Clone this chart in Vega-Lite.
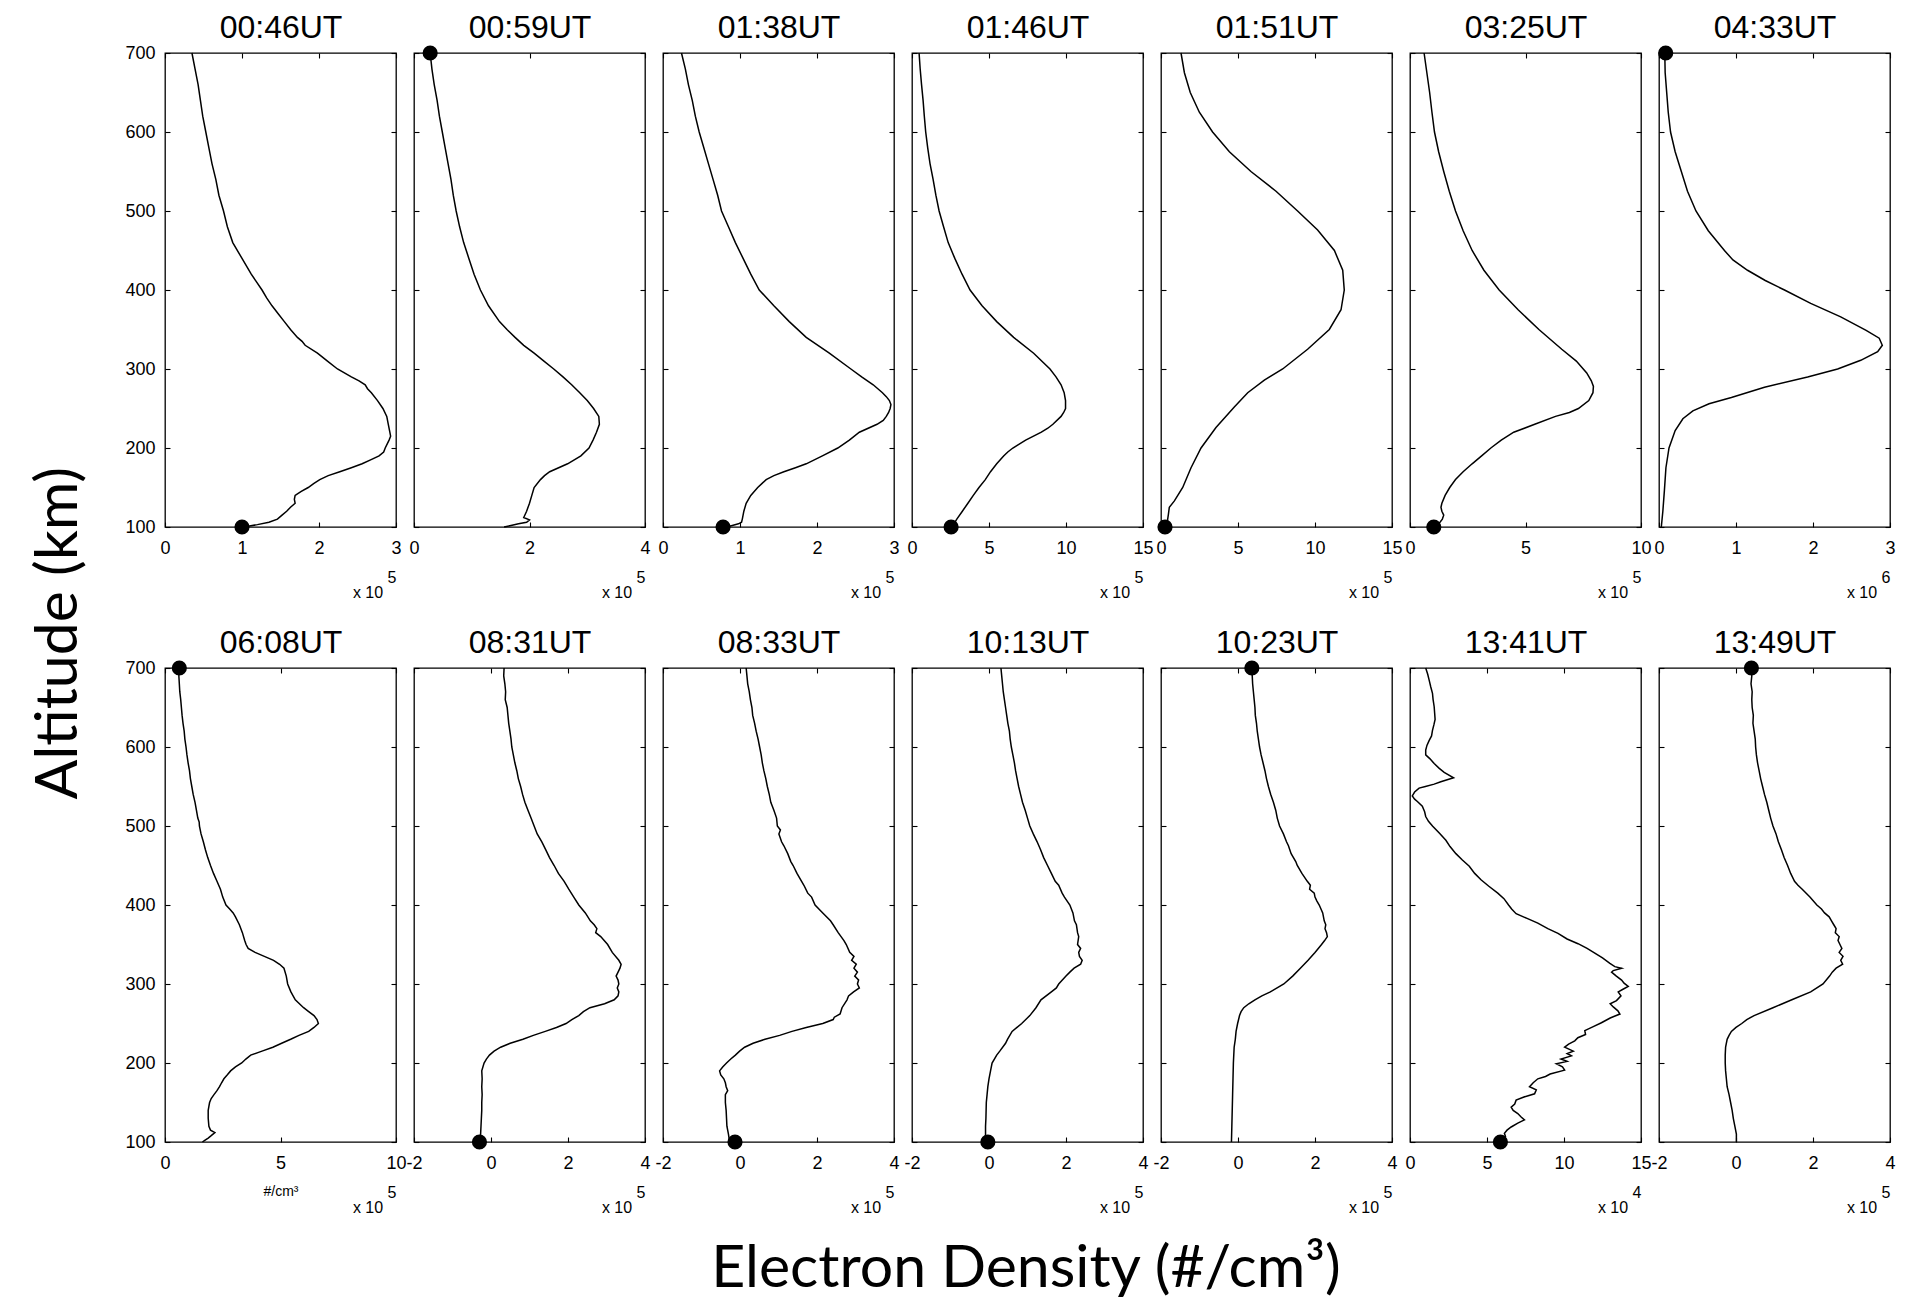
{
  "$schema": "https://vega.github.io/schema/vega-lite/v6.json",
  "background": "#ffffff",
  "padding": {"left": 30, "top": 10, "right": 5, "bottom": 5},
  "config": {
    "view": {"stroke": "#000000", "strokeWidth": 1.3},
    "axis": {"domain": false, "grid": false, "tickColor": "#000000", "tickWidth": 1.1, "tickSize": -5,
             "labelFont": "Liberation Sans", "labelFontSize": 18, "labelColor": "#000000",
             "labelOverlap": false, "labelFlush": false, "labelBound": false,
             "titleFont": "Liberation Sans", "titleFontWeight": "normal", "titleColor": "#000000"},
    "axisLeft": {"labelPadding": 15},
    "axisBottom": {"labelPadding": 17},
    "line": {"color": "#000000", "strokeWidth": 1.5},
    "circle": {"color": "#000000", "opacity": 1, "size": 230}
  },
  "title": {"text": "Electron Density (#/cm³)", "orient": "bottom", "anchor": "middle", "font": "Lato", "fontSize": 59, "fontWeight": "normal", "color": "#000000", "offset": 24, "dx": 63},
  "datasets": {
    "t0046": [
      {"alt":700,"ne":35000},{"alt":680,"ne":39000},{"alt":660,"ne":43000},{"alt":640,"ne":46000},{"alt":620,"ne":49000},{"alt":600,"ne":53000},{"alt":580,"ne":57000},{"alt":560,"ne":61000},{"alt":540,"ne":66000},{"alt":520,"ne":70000},{"alt":500,"ne":76000},{"alt":480,"ne":81000},{"alt":460,"ne":88000},{"alt":440,"ne":100000},{"alt":420,"ne":112000},{"alt":400,"ne":126000},{"alt":390,"ne":132000},{"alt":380,"ne":139000},{"alt":370,"ne":147000},{"alt":360,"ne":155000},{"alt":350,"ne":163000},{"alt":340,"ne":172000},{"alt":335,"ne":178000},{"alt":330,"ne":182000},{"alt":320,"ne":198000},{"alt":310,"ne":211000},{"alt":300,"ne":224000},{"alt":290,"ne":242000},{"alt":285,"ne":252000},{"alt":280,"ne":260000},{"alt":275,"ne":263000},{"alt":270,"ne":268000},{"alt":260,"ne":276000},{"alt":250,"ne":283000},{"alt":240,"ne":288000},{"alt":230,"ne":290000},{"alt":220,"ne":292000},{"alt":215,"ne":293000},{"alt":210,"ne":291000},{"alt":200,"ne":286000},{"alt":195,"ne":284000},{"alt":190,"ne":278000},{"alt":185,"ne":267000},{"alt":180,"ne":256000},{"alt":175,"ne":242000},{"alt":170,"ne":227000},{"alt":165,"ne":212000},{"alt":160,"ne":201000},{"alt":155,"ne":193000},{"alt":150,"ne":186000},{"alt":145,"ne":177000},{"alt":142,"ne":172000},{"alt":140,"ne":169000},{"alt":135,"ne":168000},{"alt":130,"ne":169000},{"alt":125,"ne":163000},{"alt":120,"ne":158000},{"alt":115,"ne":152000},{"alt":110,"ne":146000},{"alt":106,"ne":135000},{"alt":103,"ne":120000},{"alt":101,"ne":108000},{"alt":100,"ne":100000}
    ],
    "t0059": [
      {"alt":700,"ne":28000},{"alt":680,"ne":31000},{"alt":660,"ne":35000},{"alt":640,"ne":40000},{"alt":620,"ne":44000},{"alt":600,"ne":49000},{"alt":580,"ne":54000},{"alt":560,"ne":59000},{"alt":540,"ne":64000},{"alt":520,"ne":68000},{"alt":500,"ne":73000},{"alt":480,"ne":79000},{"alt":460,"ne":86000},{"alt":440,"ne":95000},{"alt":420,"ne":104000},{"alt":400,"ne":115000},{"alt":380,"ne":129000},{"alt":360,"ne":148000},{"alt":350,"ne":161000},{"alt":340,"ne":175000},{"alt":330,"ne":190000},{"alt":320,"ne":208000},{"alt":310,"ne":225000},{"alt":300,"ne":242000},{"alt":290,"ne":258000},{"alt":280,"ne":273000},{"alt":270,"ne":287000},{"alt":260,"ne":300000},{"alt":250,"ne":311000},{"alt":240,"ne":320000},{"alt":230,"ne":321000},{"alt":220,"ne":316000},{"alt":210,"ne":310000},{"alt":200,"ne":303000},{"alt":190,"ne":289000},{"alt":180,"ne":266000},{"alt":170,"ne":235000},{"alt":165,"ne":226000},{"alt":160,"ne":219000},{"alt":150,"ne":208000},{"alt":140,"ne":204000},{"alt":130,"ne":200000},{"alt":120,"ne":195000},{"alt":112,"ne":190000},{"alt":109,"ne":200000},{"alt":106,"ne":195000},{"alt":104,"ne":181000},{"alt":102,"ne":168000},{"alt":100,"ne":156000}
    ],
    "t0138": [
      {"alt":700,"ne":24000},{"alt":680,"ne":29000},{"alt":660,"ne":33000},{"alt":640,"ne":38000},{"alt":620,"ne":42000},{"alt":600,"ne":47000},{"alt":580,"ne":53000},{"alt":560,"ne":59000},{"alt":540,"ne":65000},{"alt":520,"ne":71000},{"alt":500,"ne":76000},{"alt":480,"ne":85000},{"alt":460,"ne":94000},{"alt":440,"ne":104000},{"alt":420,"ne":114000},{"alt":400,"ne":125000},{"alt":380,"ne":144000},{"alt":360,"ne":164000},{"alt":340,"ne":186000},{"alt":320,"ne":216000},{"alt":300,"ne":244000},{"alt":290,"ne":258000},{"alt":280,"ne":273000},{"alt":270,"ne":285000},{"alt":265,"ne":290000},{"alt":260,"ne":294000},{"alt":255,"ne":296000},{"alt":250,"ne":295000},{"alt":245,"ne":293000},{"alt":240,"ne":290000},{"alt":235,"ne":286000},{"alt":230,"ne":278000},{"alt":220,"ne":255000},{"alt":210,"ne":242000},{"alt":200,"ne":227000},{"alt":190,"ne":207000},{"alt":180,"ne":186000},{"alt":175,"ne":172000},{"alt":170,"ne":157000},{"alt":165,"ne":144000},{"alt":160,"ne":134000},{"alt":150,"ne":123000},{"alt":140,"ne":114000},{"alt":130,"ne":108000},{"alt":120,"ne":105000},{"alt":110,"ne":103000},{"alt":106,"ne":102000},{"alt":104,"ne":98000},{"alt":102,"ne":90000},{"alt":100,"ne":82000}
    ],
    "t0146": [
      {"alt":700,"ne":46000},{"alt":680,"ne":53000},{"alt":660,"ne":62000},{"alt":640,"ne":72000},{"alt":620,"ne":80000},{"alt":600,"ne":89000},{"alt":580,"ne":102000},{"alt":560,"ne":117000},{"alt":540,"ne":137000},{"alt":520,"ne":155000},{"alt":500,"ne":176000},{"alt":480,"ne":205000},{"alt":460,"ne":235000},{"alt":440,"ne":278000},{"alt":420,"ne":325000},{"alt":400,"ne":377000},{"alt":380,"ne":455000},{"alt":360,"ne":550000},{"alt":340,"ne":660000},{"alt":320,"ne":790000},{"alt":300,"ne":896000},{"alt":290,"ne":935000},{"alt":280,"ne":968000},{"alt":270,"ne":988000},{"alt":260,"ne":997000},{"alt":250,"ne":997000},{"alt":245,"ne":985000},{"alt":240,"ne":968000},{"alt":230,"ne":915000},{"alt":225,"ne":882000},{"alt":220,"ne":840000},{"alt":210,"ne":738000},{"alt":200,"ne":655000},{"alt":195,"ne":622000},{"alt":190,"ne":595000},{"alt":180,"ne":550000},{"alt":170,"ne":510000},{"alt":160,"ne":476000},{"alt":150,"ne":435000},{"alt":140,"ne":398000},{"alt":130,"ne":363000},{"alt":120,"ne":327000},{"alt":110,"ne":291000},{"alt":105,"ne":275000},{"alt":100,"ne":260000}
    ],
    "t0151": [
      {"alt":700,"ne":130000},{"alt":675,"ne":152000},{"alt":650,"ne":190000},{"alt":625,"ne":249000},{"alt":600,"ne":335000},{"alt":575,"ne":444000},{"alt":550,"ne":584000},{"alt":525,"ne":747000},{"alt":500,"ne":887000},{"alt":476,"ne":1017000},{"alt":450,"ne":1126000},{"alt":425,"ne":1180000},{"alt":400,"ne":1190000},{"alt":375,"ne":1169000},{"alt":350,"ne":1093000},{"alt":325,"ne":952000},{"alt":300,"ne":790000},{"alt":286,"ne":671000},{"alt":270,"ne":563000},{"alt":252,"ne":476000},{"alt":226,"ne":357000},{"alt":200,"ne":260000},{"alt":175,"ne":195000},{"alt":150,"ne":141000},{"alt":133,"ne":87000},{"alt":125,"ne":54000},{"alt":116,"ne":48000},{"alt":108,"ne":42000},{"alt":100,"ne":39000}
    ],
    "t0325": [
      {"alt":700,"ne":61000},{"alt":675,"ne":73000},{"alt":650,"ne":85000},{"alt":625,"ne":95000},{"alt":600,"ne":106000},{"alt":575,"ne":124000},{"alt":550,"ne":146000},{"alt":525,"ne":170000},{"alt":500,"ne":197000},{"alt":475,"ne":230000},{"alt":450,"ne":269000},{"alt":425,"ne":320000},{"alt":400,"ne":386000},{"alt":375,"ne":468000},{"alt":350,"ne":558000},{"alt":325,"ne":657000},{"alt":310,"ne":720000},{"alt":295,"ne":765000},{"alt":285,"ne":785000},{"alt":278,"ne":794000},{"alt":270,"ne":792000},{"alt":260,"ne":774000},{"alt":250,"ne":729000},{"alt":245,"ne":690000},{"alt":240,"ne":630000},{"alt":230,"ne":540000},{"alt":220,"ne":449000},{"alt":210,"ne":395000},{"alt":200,"ne":350000},{"alt":190,"ne":310000},{"alt":180,"ne":269000},{"alt":170,"ne":230000},{"alt":160,"ne":197000},{"alt":150,"ne":172000},{"alt":140,"ne":152000},{"alt":130,"ne":138000},{"alt":125,"ne":134000},{"alt":120,"ne":138000},{"alt":115,"ne":146000},{"alt":110,"ne":140000},{"alt":106,"ne":130000},{"alt":103,"ne":115000},{"alt":100,"ne":103000}
    ],
    "t0433": [
      {"alt":700,"ne":75000},{"alt":675,"ne":80000},{"alt":650,"ne":100000},{"alt":625,"ne":120000},{"alt":600,"ne":150000},{"alt":575,"ne":210000},{"alt":550,"ne":290000},{"alt":525,"ne":370000},{"alt":500,"ne":480000},{"alt":475,"ne":640000},{"alt":450,"ne":850000},{"alt":438,"ne":960000},{"alt":425,"ne":1150000},{"alt":412,"ne":1380000},{"alt":400,"ne":1630000},{"alt":383,"ne":1970000},{"alt":366,"ne":2360000},{"alt":349,"ne":2690000},{"alt":339,"ne":2860000},{"alt":330,"ne":2900000},{"alt":322,"ne":2840000},{"alt":311,"ne":2620000},{"alt":300,"ne":2320000},{"alt":290,"ne":1930000},{"alt":277,"ne":1370000},{"alt":264,"ne":940000},{"alt":256,"ne":650000},{"alt":247,"ne":440000},{"alt":237,"ne":310000},{"alt":222,"ne":210000},{"alt":200,"ne":130000},{"alt":175,"ne":90000},{"alt":146,"ne":70000},{"alt":120,"ne":50000},{"alt":100,"ne":30000}
    ],
    "t0608": [
      {"alt":700,"ne":60000},{"alt":690,"ne":60000},{"alt":680,"ne":62000},{"alt":670,"ne":64000},{"alt":660,"ne":68000},{"alt":650,"ne":71000},{"alt":640,"ne":74000},{"alt":630,"ne":78000},{"alt":620,"ne":83000},{"alt":610,"ne":86000},{"alt":600,"ne":91000},{"alt":590,"ne":95000},{"alt":580,"ne":100000},{"alt":570,"ne":106000},{"alt":560,"ne":110000},{"alt":550,"ne":116000},{"alt":540,"ne":122000},{"alt":530,"ne":130000},{"alt":520,"ne":136000},{"alt":510,"ne":142000},{"alt":505,"ne":148000},{"alt":500,"ne":149000},{"alt":490,"ne":156000},{"alt":480,"ne":166000},{"alt":470,"ne":175000},{"alt":460,"ne":185000},{"alt":450,"ne":197000},{"alt":440,"ne":210000},{"alt":430,"ne":225000},{"alt":420,"ne":240000},{"alt":410,"ne":250000},{"alt":400,"ne":264000},{"alt":395,"ne":280000},{"alt":390,"ne":295000},{"alt":385,"ne":305000},{"alt":375,"ne":322000},{"alt":365,"ne":335000},{"alt":355,"ne":345000},{"alt":350,"ne":351000},{"alt":345,"ne":360000},{"alt":340,"ne":390000},{"alt":335,"ne":430000},{"alt":330,"ne":470000},{"alt":325,"ne":496000},{"alt":320,"ne":515000},{"alt":310,"ne":525000},{"alt":300,"ne":531000},{"alt":290,"ne":545000},{"alt":280,"ne":564000},{"alt":270,"ne":600000},{"alt":265,"ne":622000},{"alt":260,"ne":645000},{"alt":255,"ne":658000},{"alt":250,"ne":664000},{"alt":245,"ne":645000},{"alt":240,"ne":622000},{"alt":235,"ne":580000},{"alt":230,"ne":544000},{"alt":225,"ne":505000},{"alt":220,"ne":467000},{"alt":215,"ne":420000},{"alt":210,"ne":371000},{"alt":205,"ne":350000},{"alt":200,"ne":332000},{"alt":195,"ne":305000},{"alt":190,"ne":284000},{"alt":185,"ne":270000},{"alt":180,"ne":255000},{"alt":175,"ne":245000},{"alt":170,"ne":236000},{"alt":165,"ne":225000},{"alt":160,"ne":212000},{"alt":155,"ne":200000},{"alt":150,"ne":193000},{"alt":145,"ne":190000},{"alt":140,"ne":187000},{"alt":130,"ne":187000},{"alt":120,"ne":190000},{"alt":115,"ne":197000},{"alt":112,"ne":216000},{"alt":108,"ne":200000},{"alt":105,"ne":187000},{"alt":102,"ne":172000},{"alt":100,"ne":162000}
    ],
    "t0831": [
      {"alt":700,"ne":34000},{"alt":690,"ne":33000},{"alt":680,"ne":36000},{"alt":670,"ne":38000},{"alt":660,"ne":37000},{"alt":650,"ne":42000},{"alt":640,"ne":44000},{"alt":630,"ne":46000},{"alt":620,"ne":49000},{"alt":610,"ne":52000},{"alt":600,"ne":54000},{"alt":590,"ne":58000},{"alt":580,"ne":62000},{"alt":570,"ne":67000},{"alt":560,"ne":71000},{"alt":550,"ne":77000},{"alt":540,"ne":82000},{"alt":530,"ne":88000},{"alt":520,"ne":96000},{"alt":510,"ne":104000},{"alt":500,"ne":112000},{"alt":490,"ne":120000},{"alt":480,"ne":132000},{"alt":470,"ne":142000},{"alt":460,"ne":152000},{"alt":450,"ne":164000},{"alt":440,"ne":175000},{"alt":430,"ne":190000},{"alt":420,"ne":202000},{"alt":410,"ne":215000},{"alt":400,"ne":228000},{"alt":390,"ne":245000},{"alt":380,"ne":258000},{"alt":375,"ne":268000},{"alt":370,"ne":275000},{"alt":365,"ne":272000},{"alt":360,"ne":285000},{"alt":350,"ne":303000},{"alt":340,"ne":315000},{"alt":330,"ne":332000},{"alt":325,"ne":338000},{"alt":320,"ne":335000},{"alt":315,"ne":330000},{"alt":310,"ne":325000},{"alt":305,"ne":330000},{"alt":300,"ne":332000},{"alt":295,"ne":328000},{"alt":290,"ne":332000},{"alt":285,"ne":330000},{"alt":280,"ne":320000},{"alt":275,"ne":295000},{"alt":270,"ne":257000},{"alt":265,"ne":240000},{"alt":260,"ne":228000},{"alt":255,"ne":210000},{"alt":250,"ne":195000},{"alt":245,"ne":170000},{"alt":240,"ne":141000},{"alt":235,"ne":110000},{"alt":230,"ne":83000},{"alt":225,"ne":50000},{"alt":220,"ne":25000},{"alt":215,"ne":8000},{"alt":210,"ne":-4000},{"alt":205,"ne":-12000},{"alt":200,"ne":-18000},{"alt":190,"ne":-24000},{"alt":180,"ne":-23000},{"alt":170,"ne":-24000},{"alt":160,"ne":-23000},{"alt":150,"ne":-24000},{"alt":140,"ne":-24000},{"alt":130,"ne":-25000},{"alt":120,"ne":-26000},{"alt":110,"ne":-27000},{"alt":100,"ne":-30000}
    ],
    "t0833": [
      {"alt":700,"ne":16000},{"alt":690,"ne":18000},{"alt":680,"ne":20000},{"alt":670,"ne":24000},{"alt":660,"ne":27000},{"alt":650,"ne":31000},{"alt":640,"ne":33000},{"alt":630,"ne":38000},{"alt":620,"ne":42000},{"alt":610,"ne":47000},{"alt":600,"ne":51000},{"alt":590,"ne":55000},{"alt":580,"ne":58000},{"alt":570,"ne":62000},{"alt":560,"ne":67000},{"alt":550,"ne":71000},{"alt":540,"ne":76000},{"alt":530,"ne":80000},{"alt":520,"ne":88000},{"alt":510,"ne":95000},{"alt":500,"ne":97000},{"alt":495,"ne":105000},{"alt":490,"ne":101000},{"alt":480,"ne":108000},{"alt":475,"ne":114000},{"alt":465,"ne":124000},{"alt":455,"ne":132000},{"alt":450,"ne":138000},{"alt":440,"ne":148000},{"alt":430,"ne":160000},{"alt":425,"ne":166000},{"alt":415,"ne":176000},{"alt":410,"ne":186000},{"alt":400,"ne":195000},{"alt":390,"ne":215000},{"alt":380,"ne":235000},{"alt":375,"ne":242000},{"alt":365,"ne":255000},{"alt":355,"ne":270000},{"alt":350,"ne":276000},{"alt":340,"ne":285000},{"alt":335,"ne":296000},{"alt":330,"ne":290000},{"alt":325,"ne":302000},{"alt":320,"ne":296000},{"alt":315,"ne":305000},{"alt":310,"ne":298000},{"alt":305,"ne":308000},{"alt":300,"ne":305000},{"alt":295,"ne":310000},{"alt":290,"ne":295000},{"alt":285,"ne":282000},{"alt":280,"ne":278000},{"alt":270,"ne":265000},{"alt":262,"ne":260000},{"alt":258,"ne":245000},{"alt":255,"ne":242000},{"alt":250,"ne":215000},{"alt":245,"ne":172000},{"alt":240,"ne":135000},{"alt":235,"ne":103000},{"alt":230,"ne":65000},{"alt":225,"ne":34000},{"alt":220,"ne":12000},{"alt":215,"ne":-1000},{"alt":210,"ne":-12000},{"alt":205,"ne":-24000},{"alt":200,"ne":-35000},{"alt":195,"ne":-45000},{"alt":190,"ne":-53000},{"alt":185,"ne":-50000},{"alt":180,"ne":-42000},{"alt":175,"ne":-38000},{"alt":170,"ne":-36000},{"alt":165,"ne":-32000},{"alt":160,"ne":-38000},{"alt":150,"ne":-38000},{"alt":140,"ne":-36000},{"alt":130,"ne":-35000},{"alt":120,"ne":-34000},{"alt":110,"ne":-30000},{"alt":100,"ne":-27000}
    ],
    "t1013": [
      {"alt":700,"ne":31000},{"alt":690,"ne":33000},{"alt":680,"ne":35000},{"alt":670,"ne":37000},{"alt":660,"ne":40000},{"alt":650,"ne":43000},{"alt":640,"ne":46000},{"alt":630,"ne":49000},{"alt":620,"ne":53000},{"alt":610,"ne":55000},{"alt":600,"ne":58000},{"alt":590,"ne":62000},{"alt":580,"ne":66000},{"alt":570,"ne":69000},{"alt":560,"ne":73000},{"alt":550,"ne":77000},{"alt":540,"ne":82000},{"alt":530,"ne":87000},{"alt":520,"ne":94000},{"alt":510,"ne":100000},{"alt":500,"ne":106000},{"alt":490,"ne":115000},{"alt":480,"ne":125000},{"alt":470,"ne":134000},{"alt":460,"ne":142000},{"alt":450,"ne":152000},{"alt":440,"ne":162000},{"alt":430,"ne":172000},{"alt":425,"ne":181000},{"alt":415,"ne":190000},{"alt":410,"ne":196000},{"alt":400,"ne":210000},{"alt":390,"ne":218000},{"alt":380,"ne":222000},{"alt":375,"ne":227000},{"alt":365,"ne":230000},{"alt":360,"ne":233000},{"alt":350,"ne":230000},{"alt":345,"ne":238000},{"alt":340,"ne":233000},{"alt":335,"ne":235000},{"alt":330,"ne":242000},{"alt":325,"ne":238000},{"alt":320,"ne":221000},{"alt":315,"ne":210000},{"alt":310,"ne":200000},{"alt":300,"ne":181000},{"alt":295,"ne":175000},{"alt":290,"ne":162000},{"alt":280,"ne":135000},{"alt":270,"ne":122000},{"alt":260,"ne":106000},{"alt":250,"ne":85000},{"alt":240,"ne":60000},{"alt":230,"ne":48000},{"alt":225,"ne":43000},{"alt":215,"ne":28000},{"alt":210,"ne":20000},{"alt":200,"ne":8000},{"alt":190,"ne":4000},{"alt":180,"ne":0},{"alt":170,"ne":-3000},{"alt":160,"ne":-5000},{"alt":150,"ne":-7000},{"alt":130,"ne":-8000},{"alt":120,"ne":-9000},{"alt":100,"ne":-9000}
    ],
    "t1023": [
      {"alt":700,"ne":36000},{"alt":690,"ne":37000},{"alt":680,"ne":38000},{"alt":670,"ne":40000},{"alt":660,"ne":42000},{"alt":650,"ne":44000},{"alt":640,"ne":45000},{"alt":630,"ne":48000},{"alt":620,"ne":50000},{"alt":610,"ne":53000},{"alt":600,"ne":56000},{"alt":590,"ne":60000},{"alt":580,"ne":65000},{"alt":570,"ne":70000},{"alt":560,"ne":74000},{"alt":550,"ne":79000},{"alt":540,"ne":85000},{"alt":530,"ne":92000},{"alt":520,"ne":98000},{"alt":510,"ne":102000},{"alt":500,"ne":108000},{"alt":490,"ne":118000},{"alt":480,"ne":126000},{"alt":475,"ne":131000},{"alt":465,"ne":138000},{"alt":455,"ne":150000},{"alt":450,"ne":154000},{"alt":440,"ne":166000},{"alt":430,"ne":180000},{"alt":425,"ne":188000},{"alt":420,"ne":186000},{"alt":415,"ne":198000},{"alt":410,"ne":200000},{"alt":405,"ne":205000},{"alt":400,"ne":211000},{"alt":390,"ne":220000},{"alt":380,"ne":224000},{"alt":375,"ne":228000},{"alt":370,"ne":226000},{"alt":365,"ne":230000},{"alt":360,"ne":232000},{"alt":355,"ne":225000},{"alt":350,"ne":217000},{"alt":340,"ne":200000},{"alt":330,"ne":182000},{"alt":320,"ne":162000},{"alt":310,"ne":142000},{"alt":300,"ne":119000},{"alt":290,"ne":84000},{"alt":285,"ne":62000},{"alt":280,"ne":44000},{"alt":275,"ne":28000},{"alt":270,"ne":15000},{"alt":265,"ne":8000},{"alt":260,"ne":4000},{"alt":250,"ne":-1000},{"alt":240,"ne":-5000},{"alt":230,"ne":-7000},{"alt":220,"ne":-10000},{"alt":200,"ne":-12000},{"alt":180,"ne":-13000},{"alt":160,"ne":-14000},{"alt":140,"ne":-15000},{"alt":120,"ne":-16000},{"alt":100,"ne":-17000}
    ],
    "t1341": [
      {"alt":700,"ne":10200},{"alt":692,"ne":11500},{"alt":685,"ne":12400},{"alt":676,"ne":13500},{"alt":668,"ne":14600},{"alt":660,"ne":15000},{"alt":651,"ne":15700},{"alt":643,"ne":16000},{"alt":635,"ne":16300},{"alt":628,"ne":15500},{"alt":621,"ne":14600},{"alt":614,"ne":14000},{"alt":608,"ne":12400},{"alt":602,"ne":11000},{"alt":596,"ne":10200},{"alt":590,"ne":10200},{"alt":585,"ne":13000},{"alt":579,"ne":15700},{"alt":573,"ne":19000},{"alt":568,"ne":22200},{"alt":561,"ne":28300},{"alt":556,"ne":20000},{"alt":553,"ne":15700},{"alt":550,"ne":10000},{"alt":548,"ne":5900},{"alt":543,"ne":3000},{"alt":538,"ne":1500},{"alt":534,"ne":3000},{"alt":531,"ne":4800},{"alt":525,"ne":8000},{"alt":518,"ne":9500},{"alt":512,"ne":10200},{"alt":506,"ne":12000},{"alt":500,"ne":14600},{"alt":491,"ne":19000},{"alt":482,"ne":23300},{"alt":474,"ne":26000},{"alt":465,"ne":29800},{"alt":457,"ne":34000},{"alt":449,"ne":38500},{"alt":440,"ne":42000},{"alt":432,"ne":46100},{"alt":424,"ne":51000},{"alt":415,"ne":57000},{"alt":408,"ne":61000},{"alt":400,"ne":64000},{"alt":395,"ne":66000},{"alt":389,"ne":68900},{"alt":383,"ne":76000},{"alt":377,"ne":83000},{"alt":370,"ne":89500},{"alt":364,"ne":96100},{"alt":357,"ne":102000},{"alt":351,"ne":109100},{"alt":345,"ne":115000},{"alt":339,"ne":120000},{"alt":333,"ne":125000},{"alt":326,"ne":129800},{"alt":322,"ne":133000},{"alt":320,"ne":137400},{"alt":317,"ne":132000},{"alt":315,"ne":130900},{"alt":310,"ne":134000},{"alt":305,"ne":137400},{"alt":301,"ne":139000},{"alt":297,"ne":141700},{"alt":293,"ne":138000},{"alt":290,"ne":135200},{"alt":285,"ne":137000},{"alt":279,"ne":134100},{"alt":275,"ne":130000},{"alt":271,"ne":132000},{"alt":266,"ne":135000},{"alt":262,"ne":136300},{"alt":257,"ne":130000},{"alt":251,"ne":124300},{"alt":246,"ne":119000},{"alt":241,"ne":113500},{"alt":236,"ne":114000},{"alt":232,"ne":109000},{"alt":228,"ne":107000},{"alt":224,"ne":103000},{"alt":220,"ne":100400},{"alt":215,"ne":106000},{"alt":212,"ne":102000},{"alt":209,"ne":104800},{"alt":205,"ne":98000},{"alt":202,"ne":102000},{"alt":199,"ne":95000},{"alt":195,"ne":99000},{"alt":191,"ne":100400},{"alt":186,"ne":91000},{"alt":183,"ne":88000},{"alt":180,"ne":83000},{"alt":175,"ne":80000},{"alt":170,"ne":77600},{"alt":166,"ne":82000},{"alt":161,"ne":80900},{"alt":157,"ne":74000},{"alt":153,"ne":68900},{"alt":148,"ne":68000},{"alt":144,"ne":65700},{"alt":140,"ne":67000},{"alt":136,"ne":70000},{"alt":132,"ne":72000},{"alt":128,"ne":74300},{"alt":124,"ne":70000},{"alt":119,"ne":65700},{"alt":115,"ne":63000},{"alt":111,"ne":61300},{"alt":107,"ne":62000},{"alt":103,"ne":60000},{"alt":100,"ne":59100}
    ],
    "t1349": [
      {"alt":700,"ne":40000},{"alt":690,"ne":41000},{"alt":680,"ne":39000},{"alt":670,"ne":42000},{"alt":660,"ne":41000},{"alt":650,"ne":42000},{"alt":640,"ne":45000},{"alt":630,"ne":44000},{"alt":620,"ne":47000},{"alt":610,"ne":50000},{"alt":600,"ne":51000},{"alt":590,"ne":53000},{"alt":580,"ne":56000},{"alt":570,"ne":60000},{"alt":560,"ne":64000},{"alt":550,"ne":69000},{"alt":540,"ne":74000},{"alt":530,"ne":80000},{"alt":520,"ne":85000},{"alt":510,"ne":90000},{"alt":500,"ne":96000},{"alt":490,"ne":104000},{"alt":480,"ne":110000},{"alt":470,"ne":118000},{"alt":460,"ne":125000},{"alt":450,"ne":134000},{"alt":440,"ne":142000},{"alt":430,"ne":152000},{"alt":425,"ne":161000},{"alt":420,"ne":172000},{"alt":410,"ne":192000},{"alt":400,"ne":210000},{"alt":395,"ne":222000},{"alt":390,"ne":230000},{"alt":385,"ne":242000},{"alt":380,"ne":248000},{"alt":375,"ne":254000},{"alt":370,"ne":260000},{"alt":365,"ne":258000},{"alt":360,"ne":268000},{"alt":355,"ne":265000},{"alt":350,"ne":270000},{"alt":345,"ne":275000},{"alt":340,"ne":268000},{"alt":335,"ne":278000},{"alt":330,"ne":272000},{"alt":325,"ne":277000},{"alt":320,"ne":260000},{"alt":315,"ne":250000},{"alt":310,"ne":243000},{"alt":300,"ne":226000},{"alt":290,"ne":194000},{"alt":280,"ne":145000},{"alt":270,"ne":96000},{"alt":260,"ne":47000},{"alt":255,"ne":28000},{"alt":250,"ne":15000},{"alt":245,"ne":0},{"alt":240,"ne":-12000},{"alt":235,"ne":-18000},{"alt":230,"ne":-23000},{"alt":220,"ne":-27000},{"alt":210,"ne":-28000},{"alt":200,"ne":-28000},{"alt":190,"ne":-27000},{"alt":180,"ne":-25000},{"alt":170,"ne":-23000},{"alt":160,"ne":-18000},{"alt":150,"ne":-14000},{"alt":140,"ne":-10000},{"alt":130,"ne":-7000},{"alt":120,"ne":-3000},{"alt":110,"ne":1000},{"alt":100,"ne":1000}
    ]
  },
  "vconcat": [
    {
      "title": {"text": "Altitude (km)", "orient": "left", "anchor": "middle", "font": "Lato", "fontSize": 59, "fontWeight": "normal", "color": "#000000", "offset": 35, "dx": -20},
      "columns": 7,
      "spacing": {"row": 141, "column": 18},
      "bounds": "flush",
      "concat": [
        {"width": 231, "height": 474,
         "layer": [
           {"data": {"name": "t0046"}, "mark": "line",
            "encoding": {
              "x": {"field": "ne", "type": "quantitative", "scale": {"domain": [0, 300000], "nice": false},
                    "axis": {"orient": "bottom", "values": [0, 100000, 200000, 300000], "labelExpr": "datum.value / 1e5", "title": ["5", "x 10\u00a0\u00a0\u00a0\u200b"], "titleFontSize": 16, "titleLineHeight": 15, "titleAnchor": "end", "titleAlign": "right", "titlePadding": 12}},
              "y": {"field": "alt", "type": "quantitative", "scale": {"domain": [100, 700], "nice": false, "zero": false},
                    "axis": {"orient": "left", "values": [100, 200, 300, 400, 500, 600, 700], "title": null}},
              "order": {"field": "alt", "type": "quantitative"}}},
           {"data": {"values": [{"alt": 100, "ne": 100000}]}, "mark": "circle",
            "encoding": {
              "x": {"field": "ne", "type": "quantitative", "scale": {"domain": [0, 300000], "nice": false},
                    "axis": {"orient": "top", "values": [0, 100000, 200000, 300000], "labels": false, "title": "00:46UT", "titleFontSize": 32, "titleAnchor": "middle", "titleAlign": "center", "titleBaseline": "alphabetic", "titlePadding": 15}},
              "y": {"field": "alt", "type": "quantitative", "scale": {"domain": [100, 700], "nice": false, "zero": false},
                    "axis": {"orient": "right", "values": [100, 200, 300, 400, 500, 600, 700], "labels": false, "title": null}}}}
         ],
         "resolve": {"axis": {"x": "independent", "y": "independent"}}},

        {"width": 231, "height": 474,
         "layer": [
           {"data": {"name": "t0059"}, "mark": "line",
            "encoding": {
              "x": {"field": "ne", "type": "quantitative", "scale": {"domain": [0, 400000], "nice": false},
                    "axis": {"orient": "bottom", "values": [0, 200000, 400000], "labelExpr": "datum.value / 1e5", "title": ["5", "x 10\u00a0\u00a0\u00a0\u200b"], "titleFontSize": 16, "titleLineHeight": 15, "titleAnchor": "end", "titleAlign": "right", "titlePadding": 12}},
              "y": {"field": "alt", "type": "quantitative", "scale": {"domain": [100, 700], "nice": false, "zero": false},
                    "axis": {"orient": "left", "values": [100, 200, 300, 400, 500, 600, 700], "labels": false, "title": null}},
              "order": {"field": "alt", "type": "quantitative"}}},
           {"data": {"values": [{"alt": 700, "ne": 28000}]}, "mark": "circle",
            "encoding": {
              "x": {"field": "ne", "type": "quantitative", "scale": {"domain": [0, 400000], "nice": false},
                    "axis": {"orient": "top", "values": [0, 200000, 400000], "labels": false, "title": "00:59UT", "titleFontSize": 32, "titleAnchor": "middle", "titleAlign": "center", "titleBaseline": "alphabetic", "titlePadding": 15}},
              "y": {"field": "alt", "type": "quantitative", "scale": {"domain": [100, 700], "nice": false, "zero": false},
                    "axis": {"orient": "right", "values": [100, 200, 300, 400, 500, 600, 700], "labels": false, "title": null}}}}
         ],
         "resolve": {"axis": {"x": "independent", "y": "independent"}}},

        {"width": 231, "height": 474,
         "layer": [
           {"data": {"name": "t0138"}, "mark": "line",
            "encoding": {
              "x": {"field": "ne", "type": "quantitative", "scale": {"domain": [0, 300000], "nice": false},
                    "axis": {"orient": "bottom", "values": [0, 100000, 200000, 300000], "labelExpr": "datum.value / 1e5", "title": ["5", "x 10\u00a0\u00a0\u00a0\u200b"], "titleFontSize": 16, "titleLineHeight": 15, "titleAnchor": "end", "titleAlign": "right", "titlePadding": 12}},
              "y": {"field": "alt", "type": "quantitative", "scale": {"domain": [100, 700], "nice": false, "zero": false},
                    "axis": {"orient": "left", "values": [100, 200, 300, 400, 500, 600, 700], "labels": false, "title": null}},
              "order": {"field": "alt", "type": "quantitative"}}},
           {"data": {"values": [{"alt": 100, "ne": 78000}]}, "mark": "circle",
            "encoding": {
              "x": {"field": "ne", "type": "quantitative", "scale": {"domain": [0, 300000], "nice": false},
                    "axis": {"orient": "top", "values": [0, 100000, 200000, 300000], "labels": false, "title": "01:38UT", "titleFontSize": 32, "titleAnchor": "middle", "titleAlign": "center", "titleBaseline": "alphabetic", "titlePadding": 15}},
              "y": {"field": "alt", "type": "quantitative", "scale": {"domain": [100, 700], "nice": false, "zero": false},
                    "axis": {"orient": "right", "values": [100, 200, 300, 400, 500, 600, 700], "labels": false, "title": null}}}}
         ],
         "resolve": {"axis": {"x": "independent", "y": "independent"}}},

        {"width": 231, "height": 474,
         "layer": [
           {"data": {"name": "t0146"}, "mark": "line",
            "encoding": {
              "x": {"field": "ne", "type": "quantitative", "scale": {"domain": [0, 1500000], "nice": false},
                    "axis": {"orient": "bottom", "values": [0, 500000, 1000000, 1500000], "labelExpr": "datum.value / 1e5", "title": ["5", "x 10\u00a0\u00a0\u00a0\u200b"], "titleFontSize": 16, "titleLineHeight": 15, "titleAnchor": "end", "titleAlign": "right", "titlePadding": 12}},
              "y": {"field": "alt", "type": "quantitative", "scale": {"domain": [100, 700], "nice": false, "zero": false},
                    "axis": {"orient": "left", "values": [100, 200, 300, 400, 500, 600, 700], "labels": false, "title": null}},
              "order": {"field": "alt", "type": "quantitative"}}},
           {"data": {"values": [{"alt": 100, "ne": 254000}]}, "mark": "circle",
            "encoding": {
              "x": {"field": "ne", "type": "quantitative", "scale": {"domain": [0, 1500000], "nice": false},
                    "axis": {"orient": "top", "values": [0, 500000, 1000000, 1500000], "labels": false, "title": "01:46UT", "titleFontSize": 32, "titleAnchor": "middle", "titleAlign": "center", "titleBaseline": "alphabetic", "titlePadding": 15}},
              "y": {"field": "alt", "type": "quantitative", "scale": {"domain": [100, 700], "nice": false, "zero": false},
                    "axis": {"orient": "right", "values": [100, 200, 300, 400, 500, 600, 700], "labels": false, "title": null}}}}
         ],
         "resolve": {"axis": {"x": "independent", "y": "independent"}}},

        {"width": 231, "height": 474,
         "layer": [
           {"data": {"name": "t0151"}, "mark": "line",
            "encoding": {
              "x": {"field": "ne", "type": "quantitative", "scale": {"domain": [0, 1500000], "nice": false},
                    "axis": {"orient": "bottom", "values": [0, 500000, 1000000, 1500000], "labelExpr": "datum.value / 1e5", "title": ["5", "x 10\u00a0\u00a0\u00a0\u200b"], "titleFontSize": 16, "titleLineHeight": 15, "titleAnchor": "end", "titleAlign": "right", "titlePadding": 12}},
              "y": {"field": "alt", "type": "quantitative", "scale": {"domain": [100, 700], "nice": false, "zero": false},
                    "axis": {"orient": "left", "values": [100, 200, 300, 400, 500, 600, 700], "labels": false, "title": null}},
              "order": {"field": "alt", "type": "quantitative"}}},
           {"data": {"values": [{"alt": 100, "ne": 26000}]}, "mark": "circle",
            "encoding": {
              "x": {"field": "ne", "type": "quantitative", "scale": {"domain": [0, 1500000], "nice": false},
                    "axis": {"orient": "top", "values": [0, 500000, 1000000, 1500000], "labels": false, "title": "01:51UT", "titleFontSize": 32, "titleAnchor": "middle", "titleAlign": "center", "titleBaseline": "alphabetic", "titlePadding": 15}},
              "y": {"field": "alt", "type": "quantitative", "scale": {"domain": [100, 700], "nice": false, "zero": false},
                    "axis": {"orient": "right", "values": [100, 200, 300, 400, 500, 600, 700], "labels": false, "title": null}}}}
         ],
         "resolve": {"axis": {"x": "independent", "y": "independent"}}},

        {"width": 231, "height": 474,
         "layer": [
           {"data": {"name": "t0325"}, "mark": "line",
            "encoding": {
              "x": {"field": "ne", "type": "quantitative", "scale": {"domain": [0, 1000000], "nice": false},
                    "axis": {"orient": "bottom", "values": [0, 500000, 1000000], "labelExpr": "datum.value / 1e5", "title": ["5", "x 10\u00a0\u00a0\u00a0\u200b"], "titleFontSize": 16, "titleLineHeight": 15, "titleAnchor": "end", "titleAlign": "right", "titlePadding": 12}},
              "y": {"field": "alt", "type": "quantitative", "scale": {"domain": [100, 700], "nice": false, "zero": false},
                    "axis": {"orient": "left", "values": [100, 200, 300, 400, 500, 600, 700], "labels": false, "title": null}},
              "order": {"field": "alt", "type": "quantitative"}}},
           {"data": {"values": [{"alt": 100, "ne": 103000}]}, "mark": "circle",
            "encoding": {
              "x": {"field": "ne", "type": "quantitative", "scale": {"domain": [0, 1000000], "nice": false},
                    "axis": {"orient": "top", "values": [0, 500000, 1000000], "labels": false, "title": "03:25UT", "titleFontSize": 32, "titleAnchor": "middle", "titleAlign": "center", "titleBaseline": "alphabetic", "titlePadding": 15}},
              "y": {"field": "alt", "type": "quantitative", "scale": {"domain": [100, 700], "nice": false, "zero": false},
                    "axis": {"orient": "right", "values": [100, 200, 300, 400, 500, 600, 700], "labels": false, "title": null}}}}
         ],
         "resolve": {"axis": {"x": "independent", "y": "independent"}}},

        {"width": 231, "height": 474,
         "layer": [
           {"data": {"name": "t0433"}, "mark": "line",
            "encoding": {
              "x": {"field": "ne", "type": "quantitative", "scale": {"domain": [0, 3000000], "nice": false},
                    "axis": {"orient": "bottom", "values": [0, 1000000, 2000000, 3000000], "labelExpr": "datum.value / 1e6", "title": ["6", "x 10\u00a0\u00a0\u00a0\u200b"], "titleFontSize": 16, "titleLineHeight": 15, "titleAnchor": "end", "titleAlign": "right", "titlePadding": 12}},
              "y": {"field": "alt", "type": "quantitative", "scale": {"domain": [100, 700], "nice": false, "zero": false},
                    "axis": {"orient": "left", "values": [100, 200, 300, 400, 500, 600, 700], "labels": false, "title": null}},
              "order": {"field": "alt", "type": "quantitative"}}},
           {"data": {"values": [{"alt": 700, "ne": 87000}]}, "mark": "circle",
            "encoding": {
              "x": {"field": "ne", "type": "quantitative", "scale": {"domain": [0, 3000000], "nice": false},
                    "axis": {"orient": "top", "values": [0, 1000000, 2000000, 3000000], "labels": false, "title": "04:33UT", "titleFontSize": 32, "titleAnchor": "middle", "titleAlign": "center", "titleBaseline": "alphabetic", "titlePadding": 15}},
              "y": {"field": "alt", "type": "quantitative", "scale": {"domain": [100, 700], "nice": false, "zero": false},
                    "axis": {"orient": "right", "values": [100, 200, 300, 400, 500, 600, 700], "labels": false, "title": null}}}}
         ],
         "resolve": {"axis": {"x": "independent", "y": "independent"}}},

        {"width": 231, "height": 474,
         "layer": [
           {"data": {"name": "t0608"}, "mark": "line",
            "encoding": {
              "x": {"field": "ne", "type": "quantitative", "scale": {"domain": [0, 1000000], "nice": false},
                    "axis": {"orient": "bottom", "values": [0, 500000, 1000000], "labelExpr": "datum.value / 1e5", "title": ["5", "x 10\u00a0\u00a0\u00a0\u200b"], "titleFontSize": 16, "titleLineHeight": 15, "titleAnchor": "end", "titleAlign": "right", "titlePadding": 12}},
              "y": {"field": "alt", "type": "quantitative", "scale": {"domain": [100, 700], "nice": false, "zero": false},
                    "axis": {"orient": "left", "values": [100, 200, 300, 400, 500, 600, 700], "title": null}},
              "order": {"field": "alt", "type": "quantitative"}}},
           {"data": {"values": [{"alt": 700, "ne": 62000}]}, "mark": "circle",
            "encoding": {
              "x": {"field": "ne", "type": "quantitative", "scale": {"domain": [0, 1000000], "nice": false},
                    "axis": {"orient": "top", "values": [0, 500000, 1000000], "labels": false, "title": "06:08UT", "titleFontSize": 32, "titleAnchor": "middle", "titleAlign": "center", "titleBaseline": "alphabetic", "titlePadding": 15}},
              "y": {"field": "alt", "type": "quantitative", "scale": {"domain": [100, 700], "nice": false, "zero": false},
                    "axis": {"orient": "right", "values": [100, 200, 300, 400, 500, 600, 700], "labels": false, "title": null}}}},
           {"data": {"values": [{"alt": 700, "ne": 62000}]}, "mark": {"type": "circle", "opacity": 0},
            "encoding": {
              "x": {"field": "ne", "type": "quantitative", "scale": {"domain": [0, 1000000], "nice": false},
                    "axis": {"orient": "bottom", "ticks": false, "labels": false, "domain": false, "title": "#/cm³",
                             "titleAnchor": "middle", "titleAlign": "center", "titleFontSize": 14, "titlePadding": 42}},
              "y": {"field": "alt", "type": "quantitative", "scale": {"domain": [100, 700], "nice": false, "zero": false}, "axis": null}}}
         ],
         "resolve": {"axis": {"x": "independent", "y": "independent"}}},

        {"width": 231, "height": 474,
         "layer": [
           {"data": {"name": "t0831"}, "mark": "line",
            "encoding": {
              "x": {"field": "ne", "type": "quantitative", "scale": {"domain": [-200000, 400000], "nice": false},
                    "axis": {"orient": "bottom", "values": [-200000, 0, 200000, 400000], "labelExpr": "datum.value / 1e5", "title": ["5", "x 10\u00a0\u00a0\u00a0\u200b"], "titleFontSize": 16, "titleLineHeight": 15, "titleAnchor": "end", "titleAlign": "right", "titlePadding": 12}},
              "y": {"field": "alt", "type": "quantitative", "scale": {"domain": [100, 700], "nice": false, "zero": false},
                    "axis": {"orient": "left", "values": [100, 200, 300, 400, 500, 600, 700], "labels": false, "title": null}},
              "order": {"field": "alt", "type": "quantitative"}}},
           {"data": {"values": [{"alt": 100, "ne": -30000}]}, "mark": "circle",
            "encoding": {
              "x": {"field": "ne", "type": "quantitative", "scale": {"domain": [-200000, 400000], "nice": false},
                    "axis": {"orient": "top", "values": [-200000, 0, 200000, 400000], "labels": false, "title": "08:31UT", "titleFontSize": 32, "titleAnchor": "middle", "titleAlign": "center", "titleBaseline": "alphabetic", "titlePadding": 15}},
              "y": {"field": "alt", "type": "quantitative", "scale": {"domain": [100, 700], "nice": false, "zero": false},
                    "axis": {"orient": "right", "values": [100, 200, 300, 400, 500, 600, 700], "labels": false, "title": null}}}}
         ],
         "resolve": {"axis": {"x": "independent", "y": "independent"}}},

        {"width": 231, "height": 474,
         "layer": [
           {"data": {"name": "t0833"}, "mark": "line",
            "encoding": {
              "x": {"field": "ne", "type": "quantitative", "scale": {"domain": [-200000, 400000], "nice": false},
                    "axis": {"orient": "bottom", "values": [-200000, 0, 200000, 400000], "labelExpr": "datum.value / 1e5", "title": ["5", "x 10\u00a0\u00a0\u00a0\u200b"], "titleFontSize": 16, "titleLineHeight": 15, "titleAnchor": "end", "titleAlign": "right", "titlePadding": 12}},
              "y": {"field": "alt", "type": "quantitative", "scale": {"domain": [100, 700], "nice": false, "zero": false},
                    "axis": {"orient": "left", "values": [100, 200, 300, 400, 500, 600, 700], "labels": false, "title": null}},
              "order": {"field": "alt", "type": "quantitative"}}},
           {"data": {"values": [{"alt": 100, "ne": -13000}]}, "mark": "circle",
            "encoding": {
              "x": {"field": "ne", "type": "quantitative", "scale": {"domain": [-200000, 400000], "nice": false},
                    "axis": {"orient": "top", "values": [-200000, 0, 200000, 400000], "labels": false, "title": "08:33UT", "titleFontSize": 32, "titleAnchor": "middle", "titleAlign": "center", "titleBaseline": "alphabetic", "titlePadding": 15}},
              "y": {"field": "alt", "type": "quantitative", "scale": {"domain": [100, 700], "nice": false, "zero": false},
                    "axis": {"orient": "right", "values": [100, 200, 300, 400, 500, 600, 700], "labels": false, "title": null}}}}
         ],
         "resolve": {"axis": {"x": "independent", "y": "independent"}}},

        {"width": 231, "height": 474,
         "layer": [
           {"data": {"name": "t1013"}, "mark": "line",
            "encoding": {
              "x": {"field": "ne", "type": "quantitative", "scale": {"domain": [-200000, 400000], "nice": false},
                    "axis": {"orient": "bottom", "values": [-200000, 0, 200000, 400000], "labelExpr": "datum.value / 1e5", "title": ["5", "x 10\u00a0\u00a0\u00a0\u200b"], "titleFontSize": 16, "titleLineHeight": 15, "titleAnchor": "end", "titleAlign": "right", "titlePadding": 12}},
              "y": {"field": "alt", "type": "quantitative", "scale": {"domain": [100, 700], "nice": false, "zero": false},
                    "axis": {"orient": "left", "values": [100, 200, 300, 400, 500, 600, 700], "labels": false, "title": null}},
              "order": {"field": "alt", "type": "quantitative"}}},
           {"data": {"values": [{"alt": 100, "ne": -3000}]}, "mark": "circle",
            "encoding": {
              "x": {"field": "ne", "type": "quantitative", "scale": {"domain": [-200000, 400000], "nice": false},
                    "axis": {"orient": "top", "values": [-200000, 0, 200000, 400000], "labels": false, "title": "10:13UT", "titleFontSize": 32, "titleAnchor": "middle", "titleAlign": "center", "titleBaseline": "alphabetic", "titlePadding": 15}},
              "y": {"field": "alt", "type": "quantitative", "scale": {"domain": [100, 700], "nice": false, "zero": false},
                    "axis": {"orient": "right", "values": [100, 200, 300, 400, 500, 600, 700], "labels": false, "title": null}}}}
         ],
         "resolve": {"axis": {"x": "independent", "y": "independent"}}},

        {"width": 231, "height": 474,
         "layer": [
           {"data": {"name": "t1023"}, "mark": "line",
            "encoding": {
              "x": {"field": "ne", "type": "quantitative", "scale": {"domain": [-200000, 400000], "nice": false},
                    "axis": {"orient": "bottom", "values": [-200000, 0, 200000, 400000], "labelExpr": "datum.value / 1e5", "title": ["5", "x 10\u00a0\u00a0\u00a0\u200b"], "titleFontSize": 16, "titleLineHeight": 15, "titleAnchor": "end", "titleAlign": "right", "titlePadding": 12}},
              "y": {"field": "alt", "type": "quantitative", "scale": {"domain": [100, 700], "nice": false, "zero": false},
                    "axis": {"orient": "left", "values": [100, 200, 300, 400, 500, 600, 700], "labels": false, "title": null}},
              "order": {"field": "alt", "type": "quantitative"}}},
           {"data": {"values": [{"alt": 700, "ne": 36000}]}, "mark": "circle",
            "encoding": {
              "x": {"field": "ne", "type": "quantitative", "scale": {"domain": [-200000, 400000], "nice": false},
                    "axis": {"orient": "top", "values": [-200000, 0, 200000, 400000], "labels": false, "title": "10:23UT", "titleFontSize": 32, "titleAnchor": "middle", "titleAlign": "center", "titleBaseline": "alphabetic", "titlePadding": 15}},
              "y": {"field": "alt", "type": "quantitative", "scale": {"domain": [100, 700], "nice": false, "zero": false},
                    "axis": {"orient": "right", "values": [100, 200, 300, 400, 500, 600, 700], "labels": false, "title": null}}}}
         ],
         "resolve": {"axis": {"x": "independent", "y": "independent"}}},

        {"width": 231, "height": 474,
         "layer": [
           {"data": {"name": "t1341"}, "mark": "line",
            "encoding": {
              "x": {"field": "ne", "type": "quantitative", "scale": {"domain": [0, 150000], "nice": false},
                    "axis": {"orient": "bottom", "values": [0, 50000, 100000, 150000], "labelExpr": "datum.value / 1e4", "title": ["4", "x 10\u00a0\u00a0\u00a0\u200b"], "titleFontSize": 16, "titleLineHeight": 15, "titleAnchor": "end", "titleAlign": "right", "titlePadding": 12}},
              "y": {"field": "alt", "type": "quantitative", "scale": {"domain": [100, 700], "nice": false, "zero": false},
                    "axis": {"orient": "left", "values": [100, 200, 300, 400, 500, 600, 700], "labels": false, "title": null}},
              "order": {"field": "alt", "type": "quantitative"}}},
           {"data": {"values": [{"alt": 100, "ne": 58700}]}, "mark": "circle",
            "encoding": {
              "x": {"field": "ne", "type": "quantitative", "scale": {"domain": [0, 150000], "nice": false},
                    "axis": {"orient": "top", "values": [0, 50000, 100000, 150000], "labels": false, "title": "13:41UT", "titleFontSize": 32, "titleAnchor": "middle", "titleAlign": "center", "titleBaseline": "alphabetic", "titlePadding": 15}},
              "y": {"field": "alt", "type": "quantitative", "scale": {"domain": [100, 700], "nice": false, "zero": false},
                    "axis": {"orient": "right", "values": [100, 200, 300, 400, 500, 600, 700], "labels": false, "title": null}}}}
         ],
         "resolve": {"axis": {"x": "independent", "y": "independent"}}},

        {"width": 231, "height": 474,
         "layer": [
           {"data": {"name": "t1349"}, "mark": "line",
            "encoding": {
              "x": {"field": "ne", "type": "quantitative", "scale": {"domain": [-200000, 400000], "nice": false},
                    "axis": {"orient": "bottom", "values": [-200000, 0, 200000, 400000], "labelExpr": "datum.value / 1e5", "title": ["5", "x 10\u00a0\u00a0\u00a0\u200b"], "titleFontSize": 16, "titleLineHeight": 15, "titleAnchor": "end", "titleAlign": "right", "titlePadding": 12}},
              "y": {"field": "alt", "type": "quantitative", "scale": {"domain": [100, 700], "nice": false, "zero": false},
                    "axis": {"orient": "left", "values": [100, 200, 300, 400, 500, 600, 700], "labels": false, "title": null}},
              "order": {"field": "alt", "type": "quantitative"}}},
           {"data": {"values": [{"alt": 700, "ne": 40000}]}, "mark": "circle",
            "encoding": {
              "x": {"field": "ne", "type": "quantitative", "scale": {"domain": [-200000, 400000], "nice": false},
                    "axis": {"orient": "top", "values": [-200000, 0, 200000, 400000], "labels": false, "title": "13:49UT", "titleFontSize": 32, "titleAnchor": "middle", "titleAlign": "center", "titleBaseline": "alphabetic", "titlePadding": 15}},
              "y": {"field": "alt", "type": "quantitative", "scale": {"domain": [100, 700], "nice": false, "zero": false},
                    "axis": {"orient": "right", "values": [100, 200, 300, 400, 500, 600, 700], "labels": false, "title": null}}}}
         ],
         "resolve": {"axis": {"x": "independent", "y": "independent"}}}
      ]
    }
  ]
}
